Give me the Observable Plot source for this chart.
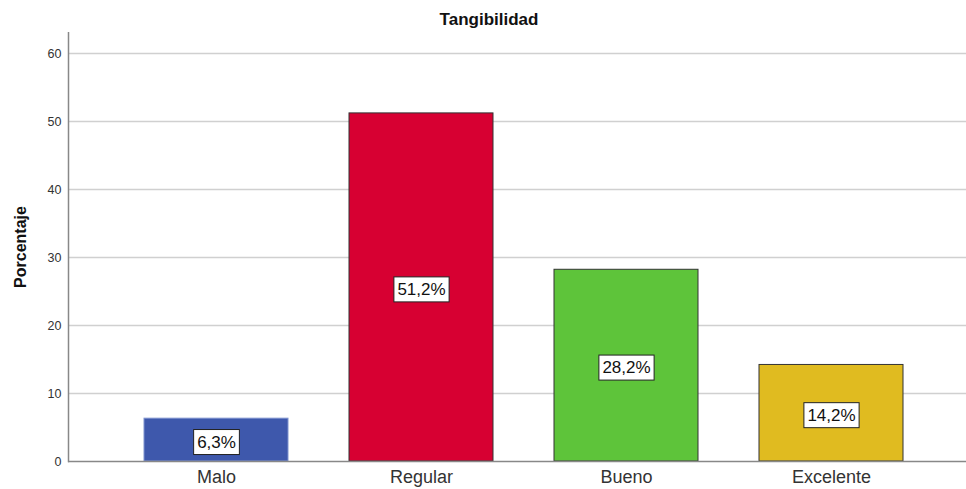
<!DOCTYPE html>
<html>
<head>
<meta charset="utf-8">
<script src="https://cdn.jsdelivr.net/npm/d3@7"></script>
<script src="https://cdn.jsdelivr.net/npm/@observablehq/plot@0.6"></script>
<style>
  html, body { margin: 0; padding: 0; background: #fff; }
  body { width: 966px; height: 489px; overflow: hidden; font-family: "Liberation Sans", Arial, sans-serif; }
  #title { height: 32px; line-height: 40px; text-align: center; font-weight: bold; font-size: 17px; color: #111; padding-left: 12px; box-sizing: border-box; }
  #chart svg { display: block; }
</style>
</head>
<body>
<div id="title">Tangibilidad</div>
<div id="chart"></div>
<script>
const categories = ["Malo", "Regular", "Bueno", "Excelente"];
const values = [6.3, 51.2, 28.2, 14.2];
const labels = ["6,3%", "51,2%", "28,2%", "14,2%"];
const colors = ["#3e58ac", "#d70032", "#5ec43a", "#e0bb20"];
const strokes = ["#7f93cf", "#333333", "#333333", "#333333"];
const yTicks = [0, 10, 20, 30, 40, 50, 60];

const data = categories.map((c, i) => ({cat: c, value: values[i], label: labels[i], color: colors[i], stroke: strokes[i]}));

const W = 966, H = 457;
const chart = Plot.plot({
  width: W,
  height: H,
  marginLeft: 68,
  marginRight: 0,
  marginTop: 0,
  marginBottom: 28,
  style: {fontFamily: "Liberation Sans, Arial, sans-serif", background: "#fff"},
  x: {domain: categories, range: [113, 933], paddingInner: 0.3, paddingOuter: 0.15, label: null},
  y: {domain: [0, 63.1], label: null},
  marks: [
    Plot.ruleY(yTicks.filter(d => d > 0), {stroke: "#d0d0d0", strokeWidth: 1.5}),
    Plot.barY(data, {x: "cat", y: "value", fill: "color", stroke: "stroke", strokeWidth: 1}),
    Plot.axisY({ticks: yTicks, tickSize: 0, tickPadding: 7, fontSize: 12.5, label: null, fill: "#333"}),
    Plot.axisX({tickSize: 0, tickPadding: 9, fontSize: 18, label: null, fill: "#333"}),
    Plot.frame({anchor: "left", stroke: "#888", strokeWidth: 1.5}),
    Plot.ruleY([0], {stroke: "#888", strokeWidth: 1.5}),
    Plot.text(data, {x: "cat", y: d => d.value / 2, dy: 2, text: "label", fontSize: 17, fill: "#111", className: "barlabel"}),
    Plot.text(["Porcentaje"], {frameAnchor: "left", textAnchor: "middle", dx: -48, rotate: -90, fontSize: 16, fontWeight: "bold", fill: "#111"})
  ]
});
document.getElementById("chart").appendChild(chart);

// white boxes behind bar labels, sized from the rendered text
const ns = "http://www.w3.org/2000/svg";
chart.querySelectorAll("g.barlabel text").forEach(t => {
  const b = t.getBBox();
  const r = document.createElementNS(ns, "rect");
  const padX = 3.5, padY = 3;
  r.setAttribute("x", b.x - padX);
  r.setAttribute("y", b.y - padY);
  r.setAttribute("width", b.width + 2 * padX);
  r.setAttribute("height", b.height + 2 * padY);
  r.setAttribute("fill", "#fff");
  r.setAttribute("stroke", "#222");
  r.setAttribute("stroke-width", "1");
  const tr = t.getAttribute("transform");
  if (tr) r.setAttribute("transform", tr);
  t.parentNode.insertBefore(r, t);
});
</script>
</body>
</html>
